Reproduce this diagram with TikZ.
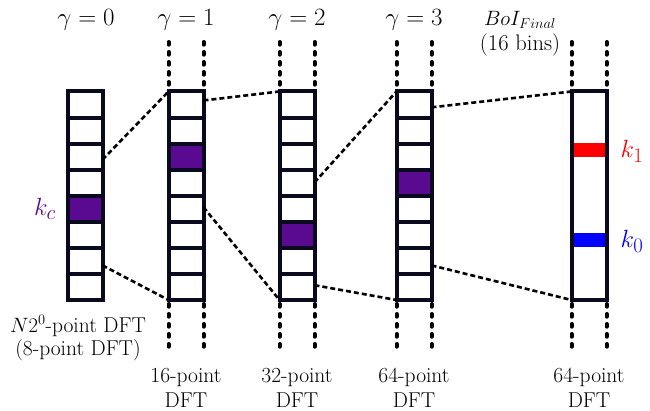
\documentclass[tikz,border=0pt]{standalone}
\usetikzlibrary{calc}
\definecolor{boxc}{RGB}{10,10,30}
\definecolor{purp}{RGB}{90,10,145}
\definecolor{kred}{RGB}{255,0,0}
\definecolor{kblue}{RGB}{0,0,255}
\begin{document}
\begin{tikzpicture}[x=1pt,y=-1pt,
  col/.style={draw=boxc, line width=4pt, minimum width=35pt, minimum height=208.5pt, inner sep=0pt, outer sep=0pt},
  grid/.style={draw=boxc, line width=4pt},
  zoomline/.style={draw=black, line width=2.6pt, dash pattern=on 5pt off 3pt},
  dotline/.style={draw=black, line width=4pt, line cap=round, dash pattern=on 2.7pt off 7.3pt},
  gam/.style={font=\fontsize{27}{31}\selectfont, inner sep=0pt},
  klab/.style={font=\fontsize{30}{34}\selectfont, inner sep=0pt},
  toplab/.style={font=\fontsize{22.5}{26}\selectfont, inner sep=0pt},
  botlab/.style={font=\fontsize{21.5}{25}\selectfont, align=center, inner sep=0pt},
]
\useasboundingbox (0,0) rectangle (650,411);

% columns
\node[col] (c0) at (85,195.75) {};
\node[col] (c1) at (186,195.75) {};
\node[col] (c2) at (297,195.75) {};
\node[col] (c3) at (414,195.75) {};
\node[col] (c4) at (589,195.75) {};

% purple cells
\foreach \c/\k in {c0/4, c1/2, c2/5, c3/3}{
  \pgfmathsetmacro{\ka}{\k/8}
  \pgfmathsetmacro{\kb}{(\k+1)/8}
  \fill[purp] ($(\c.north west)!\ka!(\c.south west)+(2,2)$) rectangle ($(\c.north east)!\kb!(\c.south east)+(-2,-2)$);
}

% cell dividers
\foreach \c in {c0,c1,c2,c3}{
  \foreach \i in {1,...,7}{
    \pgfmathsetmacro{\f}{\i/8}
    \draw[grid] ($(\c.north west)!\f!(\c.south west)$) -- ($(\c.north east)!\f!(\c.south east)$);
  }
}

% final bins
\fill[kred] ($(c4.north west)!0.247!(c4.south west)+(2,0)$) rectangle ($(c4.north east)!0.314!(c4.south east)+(-2,0)$);
\fill[kblue] ($(c4.north west)!0.679!(c4.south west)+(2,0)$) rectangle ($(c4.north east)!0.746!(c4.south east)+(-2,0)$);

% dotted extensions
\foreach \c in {c1,c2,c3,c4}{
  \draw[dotline] ($(\c.north west)+(0,-49.5)$) -- ($(\c.north west)+(0,-4)$);
  \draw[dotline] ($(\c.north east)+(0,-49.5)$) -- ($(\c.north east)+(0,-4)$);
  \draw[dotline] ($(\c.south west)+(0,4)$) -- ($(\c.south west)+(0,51)$);
  \draw[dotline] ($(\c.south east)+(0,4)$) -- ($(\c.south east)+(0,51)$);
}

% zoom connectors
\draw[zoomline] ($(c0.north east)!0.327!(c0.south east)$) -- (c1.north west);
\draw[zoomline] ($(c0.north east)!0.834!(c0.south east)$) -- (c1.south west);
\draw[zoomline] ($(c1.north east)!0.043!(c1.south east)$) -- (c2.north west);
\draw[zoomline] ($(c1.north east)!0.555!(c1.south east)$) -- (c2.south west);
\draw[zoomline] ($(c2.north east)!0.436!(c2.south east)$) -- (c3.north west);
\draw[zoomline] ($(c2.north east)!0.929!(c2.south east)$) -- (c3.south west);
\draw[zoomline] ($(c3.north east)!0.076!(c3.south east)$) -- (c4.north west);
\draw[zoomline] ($(c3.north east)!0.834!(c3.south east)$) -- (c4.south west);

% top labels
\node[gam] (g0) at (86,20) {$\gamma=0$};
\node[gam] (g1) at (186,20) {$\gamma=1$};
\node[gam] (g2) at (297,20) {$\gamma=2$};
\node[gam] (g3) at (414,20) {$\gamma=3$};
\node[toplab] (boi) at (520,20) {$BoI_{Final}$};
\node[toplab] (bins) at (520,45) {(16 bins)};

% side labels
\node[klab, text=purp] (kc) at (45,209) {$k_c$};
\node[klab, text=kred] (k1) at (632,151) {$k_1$};
\node[klab, text=kblue] (k0) at (632,241) {$k_0$};

% bottom labels
\node[botlab, font=\fontsize{21.5}{23}\selectfont] (l0) at (78,338) {$N2^0$-point DFT\\(8-point DFT)};
\node[botlab] (l1) at (186,387.5) {16-point\\DFT};
\node[botlab] (l2) at (297,387.5) {32-point\\DFT};
\node[botlab] (l3) at (414,387.5) {64-point\\DFT};
\node[botlab] (l4) at (589,387.5) {64-point\\DFT};
\end{tikzpicture}
\end{document}
